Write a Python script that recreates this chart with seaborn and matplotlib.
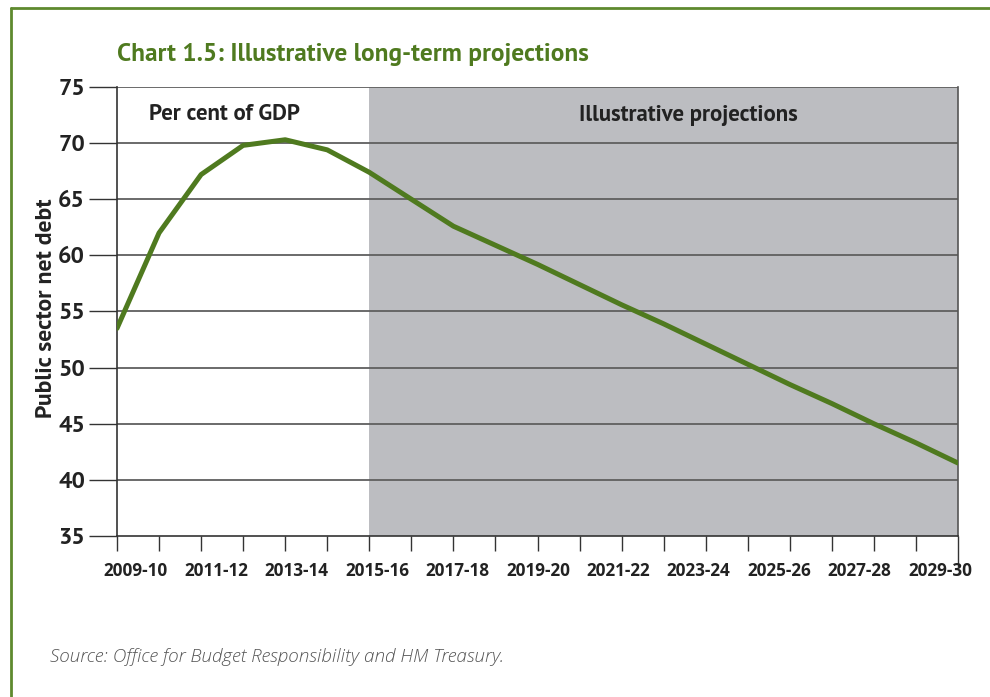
import matplotlib
matplotlib.use("Agg")
import matplotlib.pyplot as plt
import seaborn as sns
import pandas as pd
from matplotlib.lines import Line2D

years = ["2009-10", "2010-11", "2011-12", "2012-13", "2013-14", "2014-15",
         "2015-16", "2016-17", "2017-18", "2018-19", "2019-20", "2020-21",
         "2021-22", "2022-23", "2023-24", "2024-25", "2025-26", "2026-27",
         "2027-28", "2028-29", "2029-30"]
debt = [53.5, 62.0, 67.2, 69.8, 70.3, 69.4, 67.4, 65.0, 62.6, 60.9, 59.2,
        57.4, 55.6, 53.9, 52.1, 50.3, 48.5, 46.8, 45.0, 43.3, 41.5]
projection_start = "2015-16"
yticks = [35, 40, 45, 50, 55, 60, 65, 70, 75]
xlabels = years[::2]

sns.set_theme(style="white")
plt.rcParams['font.family'] = ['PT Sans', 'DejaVu Sans']

GREEN = "#4f7a1f"
FW, FH = 990, 697
fig = plt.figure(figsize=(FW / 100, FH / 100), dpi=100)
fig.patch.set_facecolor("white")

# outer border (top and left)
fig.add_artist(Line2D([11 / FW, 11 / FW], [0, 1 - 8 / FH], transform=fig.transFigure,
                      color="#5e8a2e", lw=2))
fig.add_artist(Line2D([11 / FW, 1], [1 - 8 / FH, 1 - 8 / FH], transform=fig.transFigure,
                      color="#5e8a2e", lw=2))

L, R, T, B = 117, 958, 87, 536
ax = fig.add_axes([L / FW, 1 - B / FH, (R - L) / FW, (B - T) / FH])

df = pd.DataFrame({"idx": range(len(years)), "year": years, "debt": debt})
start = years.index(projection_start)
ax.axvspan(start, len(years) - 1, color="#bcbdc1", lw=0, zorder=0)

for y in yticks[1:]:
    ax.axhline(y, color="#5f5f5f", lw=1.3, zorder=1)

sns.lineplot(data=df, x="idx", y="debt", ax=ax, color=GREEN, lw=3.6, zorder=3)

ax.set_xlim(0, len(years) - 1)
ax.set_ylim(35, 75)
ax.set_yticks(yticks)
ax.set_yticklabels([str(v) for v in yticks], fontsize=17, fontweight="bold", color="#222222")

# major ticks: every year, no labels; minor ticks (invisible) carry the labels,
# spread evenly as in the original chart
ax.set_xticks(range(len(years)))
ax.set_xticklabels([""] * len(years))
n = len(xlabels)
lab_first, lab_last = 0.45, len(years) - 1 - 0.43
lab_pos = [lab_first + k * (lab_last - lab_first) / (n - 1) for k in range(n)]
ax.set_xticks(lab_pos, minor=True)
ax.set_xticklabels(xlabels, minor=True, fontsize=12.3, fontweight="bold", color="#222222",
                   family=["Open Sans", "DejaVu Sans"])
for lab in ax.get_xticklabels(minor=True):
    lab.set_verticalalignment("baseline")
ax.tick_params(axis="x", which="major", direction="out", length=11, width=1,
               color="#333333", bottom=True)
ax.tick_params(axis="x", which="minor", length=0, pad=29, bottom=True)
ax.tick_params(axis="y", direction="out", length=20, width=1, color="#333333", pad=3, left=True)
ax.xaxis.get_major_ticks()[-1].tick1line.set_markersize(22)

for s in ["left", "bottom", "right"]:
    ax.spines[s].set_visible(True)
    ax.spines[s].set_color("#333333")
    ax.spines[s].set_linewidth(1.2)
ax.spines["top"].set_visible(False)
ax.spines["right"].set_color("#555555")

ax.set_xlabel("")
ax.set_ylabel("Public sector net debt", fontsize=17, fontweight="bold", color="#222222")
ax.yaxis.set_label_coords(-(L - 57) / (R - L), (B - 308) / (B - T))

ax.text(0.128, (B - 115) / (B - T), "Per cent of GDP", transform=ax.transAxes, fontsize=16.4,
        fontweight="bold", color="#222222", ha="center", va="center")
ax.text(0.679, (B - 115) / (B - T), "Illustrative projections", transform=ax.transAxes, fontsize=16.4,
        fontweight="bold", color="#222222", ha="center", va="center")

fig.text(117 / FW, 1 - 54 / FH, "Chart 1.5: Illustrative long-term projections",
         fontsize=18.2, fontweight="bold", color=GREEN, ha="left", va="center")
fig.text(50 / FW, 1 - 657 / FH, "Source: Office for Budget Responsibility and HM Treasury.",
         fontsize=13.6, style="italic", fontweight="light", fontstretch="normal",
         color="#555555", ha="left", va="center",
         family=["Open Sans", "DejaVu Sans"])

fig.savefig("out.png", dpi=100, facecolor="white")
